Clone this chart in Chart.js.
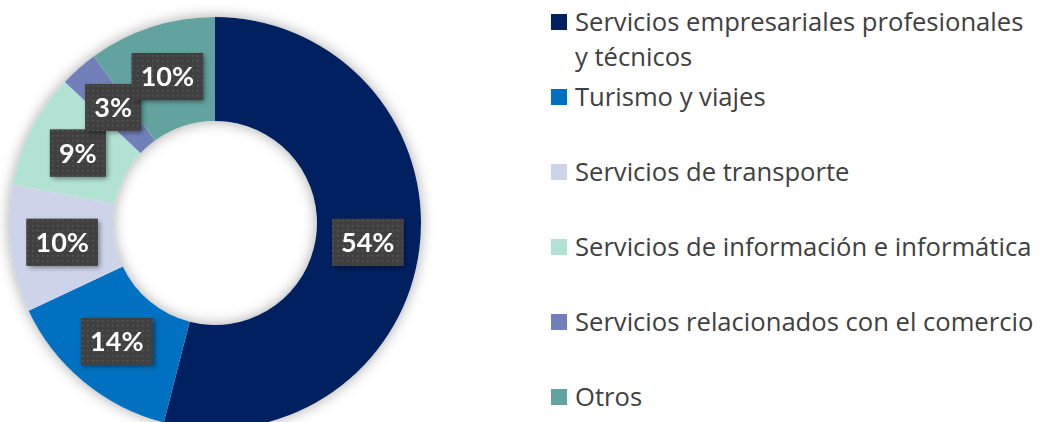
<!DOCTYPE html>
<html>
<head>
<meta charset="utf-8">
<script src="https://cdn.jsdelivr.net/npm/chart.js@4"></script>
<style>
  html, body { margin: 0; padding: 0; background: #fff; width: 1040px; height: 422px; overflow: hidden; font-family: Lato, "Open Sans", sans-serif; }
  #chartBox { position: absolute; left: -5px; top: 3px; width: 440px; height: 440px; }
  #legend { position: absolute; left: 551px; top: 4px; width: 489px; margin: 0; padding: 0; list-style: none; }
  #legend li { display: flex; align-items: flex-start; height: 75px; font-family: "Open Sans", sans-serif; font-size: 25.6px; line-height: 35px; color: #404040; }
  #legend .sw { width: 16px; height: 16px; flex: 0 0 16px; margin-top: 10px; margin-right: 8px; }
  #legend .tx { max-width: 464px; }
</style>
</head>
<body>
<div id="chartBox"><canvas id="donut"></canvas></div>
<ul id="legend"></ul>
<script>
// ── Data ──
const sectors = [
  "Servicios empresariales profesionales y técnicos",
  "Turismo y viajes",
  "Servicios de transporte",
  "Servicios de información e informática",
  "Servicios relacionados con el comercio",
  "Otros"
];
const shares = [54, 14, 10, 9, 3, 10];
const sliceColors = ["#002060", "#0070C0", "#CDD3E8", "#B2E2D4", "#7180B9", "#62A39F"];

// ── Legend ──
document.getElementById("legend").innerHTML = sectors.map((s, i) => `
  <li><span class="sw" style="background:${sliceColors[i]}"></span><span class="tx">${s}</span></li>
`).join("");

// ── Dotted fill for the label boxes ──
const tile = document.createElement("canvas");
tile.width = 5; tile.height = 5;
const tctx = tile.getContext("2d");
tctx.fillStyle = "#404040";
tctx.fillRect(0, 0, 5, 5);
tctx.fillStyle = "#585858";
tctx.fillRect(2, 2, 1.5, 1.5);

// soft shadow under the whole ring
const ringShadow = {
  id: "ringShadow",
  beforeDatasetsDraw(chart) {
    const arc = chart.getDatasetMeta(0).data[0];
    if (!arc) return;
    const { x, y, innerRadius, outerRadius } = arc.getProps(["x", "y", "innerRadius", "outerRadius"], true);
    const ctx = chart.ctx;
    ctx.save();
    ctx.shadowColor = "rgba(0,0,0,0.35)";
    ctx.shadowBlur = 14;
    ctx.beginPath();
    ctx.arc(x, y, outerRadius, 0, Math.PI * 2);
    ctx.arc(x, y, innerRadius, 0, Math.PI * 2, true);
    ctx.fillStyle = "#fff";
    ctx.fill();
    ctx.restore();
  }
};

// percentage boxes at the middle of each slice
const boxLabels = {
  id: "boxLabels",
  afterDatasetsDraw(chart) {
    const ctx = chart.ctx;
    const total = shares.reduce((a, b) => a + b, 0);
    const pattern = ctx.createPattern(tile, "repeat");
    ctx.save();
    ctx.font = "bold 27px Lato, 'Open Sans', sans-serif";
    chart.getDatasetMeta(0).data.forEach((el, i) => {
      const txt = Math.round(shares[i] / total * 100) + "%";
      const pos = el.tooltipPosition(true);
      const w = ctx.measureText(txt).width + 18;
      const h = 47;
      const bx = pos.x - w / 2, by = pos.y - h / 2;
      ctx.save();
      ctx.shadowColor = "rgba(0,0,0,0.45)";
      ctx.shadowBlur = 5;
      ctx.shadowOffsetX = 2;
      ctx.shadowOffsetY = 2;
      ctx.fillStyle = "#404040";
      ctx.fillRect(bx, by, w, h);
      ctx.restore();
      ctx.fillStyle = pattern;
      ctx.fillRect(bx, by, w, h);
      ctx.fillStyle = "#fff";
      ctx.textAlign = "center";
      ctx.textBaseline = "middle";
      ctx.fillText(txt, pos.x, pos.y + 1);
    });
    ctx.restore();
  }
};

new Chart(document.getElementById("donut"), {
  type: "doughnut",
  data: {
    labels: sectors,
    datasets: [{
      data: shares,
      backgroundColor: sliceColors,
      borderWidth: 0
    }]
  },
  options: {
    responsive: true,
    maintainAspectRatio: false,
    animation: false,
    cutout: "49.5%",
    layout: { padding: 14 },
    plugins: {
      legend: { display: false },
      tooltip: { enabled: false }
    }
  },
  plugins: [ringShadow, boxLabels]
});
</script>
</body>
</html>
